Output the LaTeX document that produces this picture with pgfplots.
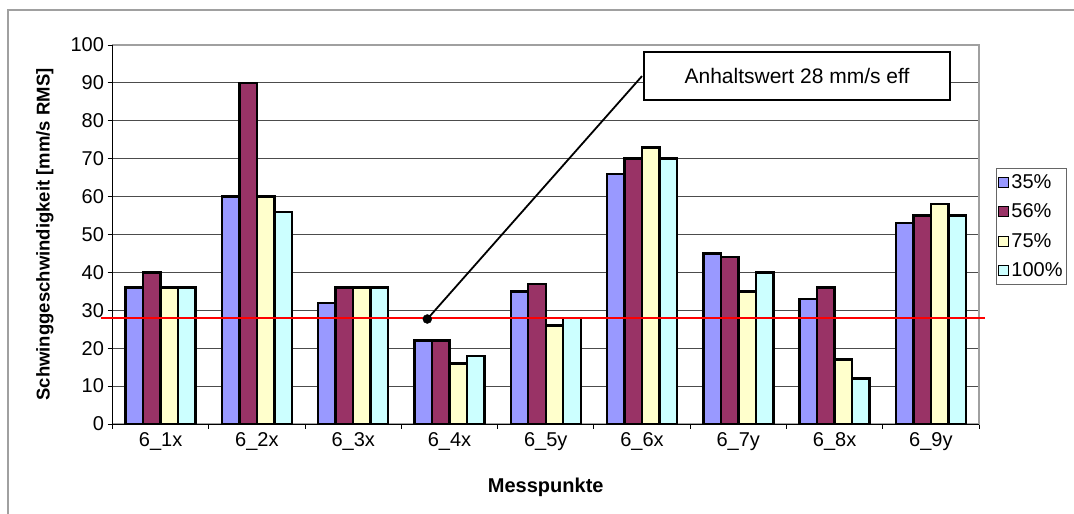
\documentclass[border=0pt]{standalone}
\usepackage{fontspec}
\setmainfont{Liberation Sans}
\usepackage{pgfplots}
\pgfplotsset{compat=1.18}
\definecolor{c1}{HTML}{9999FF}
\definecolor{c2}{HTML}{993366}
\definecolor{c3}{HTML}{FFFFCC}
\definecolor{c4}{HTML}{CCFFFF}
\definecolor{framegray}{HTML}{A0A0A0}
\newcommand\fs{\fontsize{20bp}{24bp}\selectfont}
\newcommand\fy{\fontsize{18.5bp}{22bp}\selectfont}
\newcommand\fa{\fontsize{21bp}{25bp}\selectfont}
\begin{document}
\begin{tikzpicture}
\useasboundingbox (0bp,0bp) rectangle (1074bp,514bp);
\draw[framegray, line width=1.2bp] (8bp,0bp) -- (8bp,504bp) -- (1074bp,504bp);
\begin{axis}[
  at={(112.5bp,90bp)}, anchor=south west,
  scale only axis, width=866.5bp, height=379bp,
  ymin=0, ymax=100, ytick={0,10,...,100},
  xmin=-0.5, xmax=8.5,
  xtick={-0.5,0.5,...,8.5}, xticklabels={,,,,,,,,,,},
  extra x ticks={0,1,2,3,4,5,6,7,8},
  extra x tick labels={6\_1x,6\_2x,6\_3x,6\_4x,6\_5y,6\_6x,6\_7y,6\_8x,6\_9y},
  extra x tick style={major tick length=0pt, xticklabel style={yshift=-5bp}},
  xtick pos=bottom, ytick pos=left,
  tick align=outside, major tick length=5bp,
  tick style={black, line width=0.8bp},
  ymajorgrids, grid style={black!70, line width=0.8bp},
  axis line style={framegray, line width=1.5bp},
  ticklabel style={font=\fs},
  /pgf/number format/assume math mode=true,
  ylabel={\bfseries Schwinggeschwindigkeit [mm/s RMS]},
  xlabel={\bfseries Messpunkte},
  every axis y label/.style={at={(axis description cs:-0.078,0.5)}, rotate=90, anchor=center, font=\fy},
  every axis x label/.style={at={(axis description cs:0.5,-0.166)}, anchor=center, font=\fs},
  ybar=0pt, bar width=17.5bp,
  clip=false,
  legend style={at={(1.0196,0.675)}, anchor=north west, draw=black!60, line width=0.8bp,
    font=\fs, inner xsep=2bp, inner ysep=4bp, row sep=10bp, fill=white},
  legend cell align=left,
  legend image code/.code={\draw[#1, draw=black, line width=1bp] (0bp,-5bp) rectangle (10bp,5bp);},
]
\addplot[fill=c1, draw=black, line width=2.4bp] coordinates {(0,36) (1,60) (2,32) (3,22) (4,35) (5,66) (6,45) (7,33) (8,53)};
\addplot[fill=c2, draw=black, line width=2.4bp] coordinates {(0,40) (1,90) (2,36) (3,22) (4,37) (5,70) (6,44) (7,36) (8,55)};
\addplot[fill=c3, draw=black, line width=2.4bp] coordinates {(0,36) (1,60) (2,36) (3,16) (4,26) (5,73) (6,35) (7,17) (8,58)};
\addplot[fill=c4, draw=black, line width=2.4bp] coordinates {(0,36) (1,56) (2,36) (3,18) (4,28) (5,70) (6,40) (7,12) (8,55)};
\legend{35\%,56\%,75\%,100\%}
\draw[black, line width=1bp] (rel axis cs:0,1) -- (rel axis cs:0,0) -- (rel axis cs:1,0);
\addplot[sharp plot, red, line width=2.2bp, forget plot] coordinates {(-0.62,28) (8.56,28)};
\addplot[sharp plot, black, line width=1.8bp, forget plot] coordinates {(2.77,27.7) (5.0,91.8)};
\addplot[only marks, mark=*, mark size=4.5bp, black, forget plot] coordinates {(2.77,27.7)};
\node[draw=black, line width=2.4bp, fill=white, minimum width=306bp, minimum height=48bp, inner sep=0pt, font=\fa] at (axis cs:6.61,91.8) {Anhaltswert 28 mm/s eff};
\end{axis}
\end{tikzpicture}
\end{document}
